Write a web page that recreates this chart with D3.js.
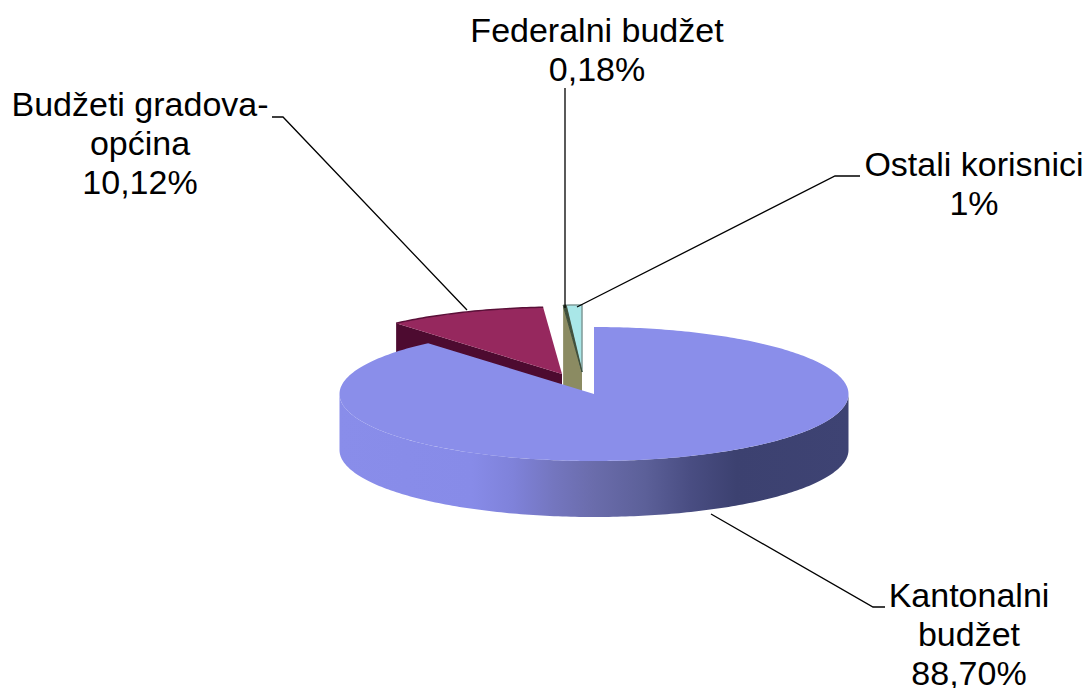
<!DOCTYPE html>
<html>
<head>
<meta charset="utf-8">
<script src="https://cdn.jsdelivr.net/npm/d3@7"></script>
<style>
  html, body { margin: 0; padding: 0; background: #fff; }
  text { font-family: "Liberation Sans", Arial, sans-serif; font-size: 34px; fill: #000; }
</style>
</head>
<body>
<div id="chart"></div>
<script>
const categories = ["Kantonalni budžet", "Budžeti gradova-općina", "Federalni budžet", "Ostali korisnici"];
const values = [88.70, 10.12, 0.18, 1];
const valueLabels = ["88,70%", "10,12%", "0,18%", "1%"];
const labelLines = [["Kantonalni", "budžet"], ["Budžeti gradova-", "općina"], ["Federalni budžet"], ["Ostali korisnici"]];
const topColors = ["#8a8eea", "#96285e", "#3f4f3a", "#a9e7e8"];
const cutColors = ["#6a6cab", "#4d0b30", "#8b8b62", "#6f9a9c"];

const width = 1086;
const height = 688;
const cx = 594, cy = 394, rx = 254.5, ry = 67, depth = 56;

// how far each slice is pulled out of the pie, in pixels
const explode = [[0, 0], [-32, -20], [-12, -22], [-12, -22]];
// the thin slices' wall runs down behind the big slice
const cutDepth = [depth, depth, 84, 84];
// label centre + baseline of first line, and leader line bends
const labelPos = [[969, 607], [140, 116], [597, 42], [974, 176]];
const leaders = [
    [[885, 607], [873, 607], [711, 514]],
    [[272, 117], [283, 117], [467, 310]],
    [[565, 88], [565, 308]],
    [[860, 176], [835, 176], [577, 307]]
];

const svg = d3.select("#chart").append("svg")
    .attr("width", width)
    .attr("height", height)
    .attr("viewBox", [0, 0, width, height])
    .style("display", "block");

const x = d3.scaleLinear().domain([-1, 1]).range([cx - rx, cx + rx]);
const y = d3.scaleLinear().domain([-1, 1]).range([cy - ry, cy + ry]);

const slices = d3.pie().sort(null).value(d => d)(values);

// point on the ellipse, angle clockwise from top
const rim = (a, i, drop = 0) => [
    x(Math.sin(a)) + explode[i][0],
    y(-Math.cos(a)) + explode[i][1] + drop
];
const tip = (i, drop = 0) => [x(0) + explode[i][0], y(0) + explode[i][1] + drop];
const sweep = (a0, a1, i, drop = 0) => {
    const n = Math.max(2, Math.ceil((a1 - a0) * 60));
    return d3.range(n + 1).map(k => rim(a0 + (a1 - a0) * k / n, i, drop));
};
const line = d3.line();

const topFace = i => line([tip(i), ...sweep(slices[i].startAngle, slices[i].endAngle, i), tip(i)]) + "Z";
const cutFace = (a, i) => line([tip(i), rim(a, i), rim(a, i, cutDepth[i]), tip(i, cutDepth[i])]) + "Z";

const defs = svg.append("defs");
const sideGrad = defs.append("linearGradient")
    .attr("id", "sideGrad")
    .attr("gradientUnits", "userSpaceOnUse")
    .attr("x1", cx - rx).attr("x2", cx + rx).attr("y1", 0).attr("y2", 0);
[[0, "#898dea"], [0.26, "#878be8"], [0.34, "#7f82da"], [0.42, "#7476bf"], [0.5, "#6a6cab"], [0.6, "#5c6099"], [0.69, "#494d82"], [0.78, "#3c4170"], [1, "#3e4373"]]
    .forEach(s => sideGrad.append("stop").attr("offset", s[0]).attr("stop-color", s[1]));

const pie = svg.append("g");

// red slice, only its cut face at the start angle shows
pie.append("path").attr("d", cutFace(slices[1].startAngle, 1)).attr("fill", cutColors[1]);
pie.append("path").attr("d", topFace(1)).attr("fill", topColors[1]);
pie.append("path").attr("d", line(sweep(slices[1].startAngle, slices[1].endAngle, 1)))
    .attr("fill", "none").attr("stroke", "#5a1038").attr("stroke-width", 1.5);

// the two thin slices
pie.append("path").attr("d", cutFace(slices[2].startAngle, 2)).attr("fill", cutColors[2]);
pie.append("path").attr("d", topFace(3)).attr("fill", topColors[3])
    .attr("stroke", "#7f9a98").attr("stroke-width", 1.5);
pie.append("path").attr("d", topFace(2)).attr("fill", topColors[2])
    .attr("stroke", topColors[2]).attr("stroke-width", 1);

// big slice: front wall then top
const frontStart = Math.PI / 2, frontEnd = 3 * Math.PI / 2;
const wall = [...sweep(frontStart, frontEnd, 0), ...sweep(frontStart, frontEnd, 0, depth).reverse()];
pie.append("path").attr("d", line(wall) + "Z").attr("fill", "url(#sideGrad)");
pie.append("path").attr("d", topFace(0)).attr("fill", topColors[0]);

// leader lines
svg.append("g")
    .selectAll("path")
    .data(leaders)
    .join("path")
    .attr("d", d => line(d))
    .attr("fill", "none")
    .attr("stroke", "#000")
    .attr("stroke-width", 1.3);

// labels
const label = svg.append("g")
    .selectAll("text")
    .data(categories)
    .join("text")
    .attr("text-anchor", "middle")
    .attr("transform", (d, i) => `translate(${labelPos[i][0]},${labelPos[i][1]})`);

label.selectAll("tspan")
    .data((d, i) => [...labelLines[i], valueLabels[i]])
    .join("tspan")
    .attr("x", 0)
    .attr("y", (d, k) => k * 39)
    .text(d => d);
</script>
</body>
</html>
